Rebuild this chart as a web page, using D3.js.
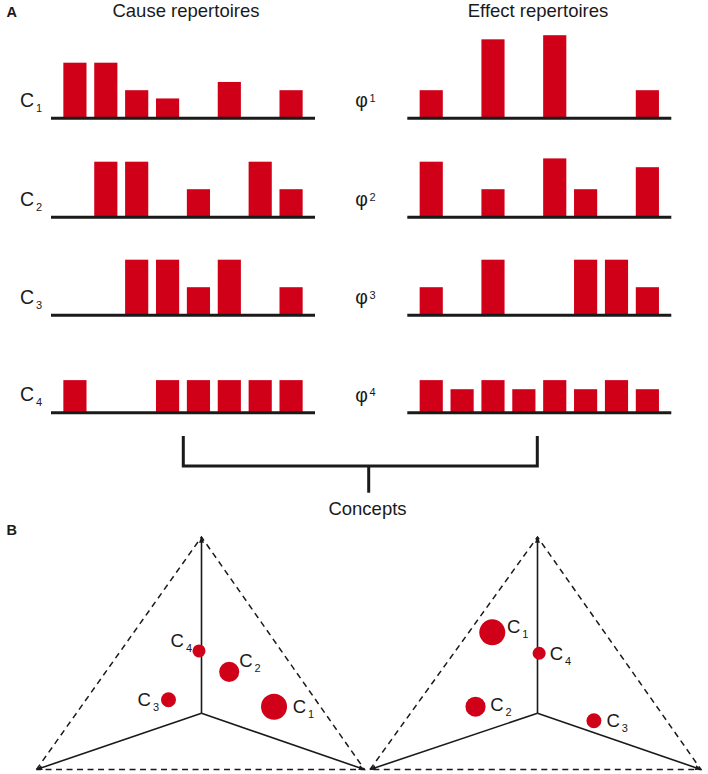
<!DOCTYPE html>
<html><head><meta charset="utf-8">
<script src="https://cdn.jsdelivr.net/npm/d3@7"></script>
<style>body{margin:0;background:#fff}svg{display:block}text{font-family:"Liberation Sans",Arial,sans-serif;fill:#1a1a1a}</style>
</head><body>
<svg id="chart" width="708" height="774"></svg>
<script>
// ---------- DATA ----------
const states = ["000","100","010","110","001","101","011","111"];
const causeNames = ["1","2","3","4"];
const effectNames = ["1","2","3","4"];
const causeRepertoires = [
  [0.2, 0.2, 0.1, 0.07, 0, 0.13, 0, 0.1],
  [0, 0.2, 0.2, 0, 0.1, 0, 0.2, 0.1],
  [0, 0, 0.2, 0.2, 0.1, 0.2, 0, 0.1],
  [0.117, 0, 0, 0.117, 0.117, 0.117, 0.117, 0.117]
];
const effectRepertoires = [
  [0.1, 0, 0.285, 0, 0.3, 0, 0, 0.1],
  [0.2, 0, 0.1, 0, 0.212, 0.1, 0, 0.18],
  [0.1, 0, 0.2, 0, 0, 0.2, 0.2, 0.1],
  [0.117, 0.084, 0.117, 0.084, 0.117, 0.084, 0.117, 0.084]
];
const conceptNames = ["1","2","3","4"];
const conceptPhi = [1.0, 0.6, 0.33, 0.25];
// positions in concept space (x: -1..1 between bottom vertices, y: 0 bottom .. 1 top)
const causeSpaceX = [0.445, 0.17, -0.20, -0.015];
const causeSpaceY = [0.27, 0.42, 0.30, 0.51];
const effectSpaceX = [-0.27, -0.37, 0.345, 0.01];
const effectSpaceY = [0.59, 0.27, 0.21, 0.50];
const centerY = 0.242;
const titles = ["Cause repertoires", "Effect repertoires"];

// ---------- LAYOUT ----------
const svg = d3.select("#chart");
const red = "#d10019", ink = "#1a1a1a";
const rowBase = [117.7, 216.7, 314.7, 412.3];
const barH = d3.scaleLinear().domain([0, 0.2]).range([0, 55]);

function panel(x0, x1, reps, names, kind) {
  const xb = d3.scaleBand().domain(states).range([x0, x1]).paddingInner(0.25).paddingOuter(0.4);
  reps.forEach((vals, i) => {
    const g = svg.append("g");
    const b = rowBase[i];
    g.selectAll("rect").data(vals.map((v, k) => ({s: states[k], v})).filter(d => d.v > 0))
      .join("rect")
      .attr("x", d => xb(d.s)).attr("width", xb.bandwidth())
      .attr("y", d => b - barH(d.v)).attr("height", d => barH(d.v))
      .attr("fill", red);
    g.append("line").attr("x1", x0).attr("x2", x1).attr("y1", b + 0.5).attr("y2", b + 0.5)
      .attr("stroke", ink).attr("stroke-width", 3);
    if (kind === "cause") {
      const t = g.append("text").attr("x", 20).attr("y", b - 11).attr("font-size", 19.5);
      t.append("tspan").text("C");
      t.append("tspan").attr("dx", 2).attr("dy", 5).attr("font-size", 11).text(names[i]);
    } else {
      const t = g.append("text").attr("x", x0 - 52).attr("y", b - 10.5).attr("font-size", 19.5);
      t.append("tspan").text("φ");
      t.append("tspan").attr("dx", 1.5).attr("dy", -5.5).attr("font-size", 11).text(names[i]);
    }
  });
}
panel(51, 315, causeRepertoires, causeNames, "cause");
panel(407.3, 671.3, effectRepertoires, effectNames, "effect");

svg.append("text").attr("x", 186).attr("y", 16.7).attr("text-anchor", "middle").attr("font-size", 18.5).text(titles[0]);
svg.append("text").attr("x", 538).attr("y", 16.7).attr("text-anchor", "middle").attr("font-size", 18.5).text(titles[1]);
svg.append("text").attr("x", 6.5).attr("y", 17).attr("font-size", 14.5).attr("font-weight", "bold").text("A");
svg.append("text").attr("x", 6.5).attr("y", 535).attr("font-size", 14.5).attr("font-weight", "bold").text("B");

// bracket
svg.append("path")
  .attr("d", d3.line()([[183.3, 436], [183.3, 466], [537.3, 466], [537.3, 436]]))
  .attr("fill", "none").attr("stroke", ink).attr("stroke-width", 3);
svg.append("line").attr("x1", 368.7).attr("x2", 368.7).attr("y1", 466).attr("y2", 492.7)
  .attr("stroke", ink).attr("stroke-width", 3);
svg.append("text").attr("x", 367.5).attr("y", 515).attr("text-anchor", "middle").attr("font-size", 18.5).text("Concepts");

// ---------- CONCEPT SPACES ----------
const defs = svg.append("defs");
defs.append("marker").attr("id", "arr").attr("viewBox", "0 0 10 10").attr("refX", 9).attr("refY", 5)
  .attr("markerWidth", 4).attr("markerHeight", 4).attr("orient", "auto-start-reverse")
  .append("path").attr("d", "M0,1 L10,5 L0,9 z").attr("fill", ink);

const rScale = d3.scaleSqrt().domain([0, 1]).range([0, 13]);
const ySp = d3.scaleLinear().domain([0, 1]).range([769.5, 537]);

const labelOffsets = [
  // cause space: [dx, dy, anchor] relative to circle centre
  [[18.7, 6, "start"], [10, -5, "start"], [-9.5, 6.7, "end"], [-7, -4.3, "end"]],
  // effect space
  [[14.6, 0.8, "start"], [14.7, 4, "start"], [12.5, 6, "start"], [10.5, 6.6, "start"]]
];

function space(xs, xPos, yPos, li) {
  const g = svg.append("g");
  const top = [xs(0), ySp(1)], ctr = [xs(0), ySp(centerY)], bl = [xs(-1), ySp(0)], br = [xs(1), ySp(0)];
  g.append("path").attr("d", d3.line()([bl, top, br, bl])).attr("fill", "none")
    .attr("stroke", ink).attr("stroke-width", 1.5).attr("stroke-dasharray", "6,4.5");
  [top, bl, br].forEach(v => {
    g.append("line").attr("x1", ctr[0]).attr("y1", ctr[1]).attr("x2", v[0]).attr("y2", v[1])
      .attr("stroke", ink).attr("stroke-width", 1.6).attr("marker-end", "url(#arr)");
  });
  conceptNames.forEach((n, i) => {
    const cx = xs(xPos[i]), cy = ySp(yPos[i]);
    g.append("circle").attr("cx", cx).attr("cy", cy).attr("r", rScale(conceptPhi[i])).attr("fill", red);
    const o = labelOffsets[li][i];
    const t = g.append("text").attr("x", cx + o[0]).attr("y", cy + o[1])
      .attr("font-size", 18.5).attr("text-anchor", o[2]);
    t.append("tspan").text("C");
    t.append("tspan").attr("dx", 2).attr("dy", 5).attr("font-size", 11).text(n);
  });
}
space(d3.scaleLinear().domain([-1, 0, 1]).range([36.5, 201.5, 364.5]), causeSpaceX, causeSpaceY, 0);
space(d3.scaleLinear().domain([-1, 0, 1]).range([370, 537.5, 701]), effectSpaceX, effectSpaceY, 1);
</script>
</body></html>
